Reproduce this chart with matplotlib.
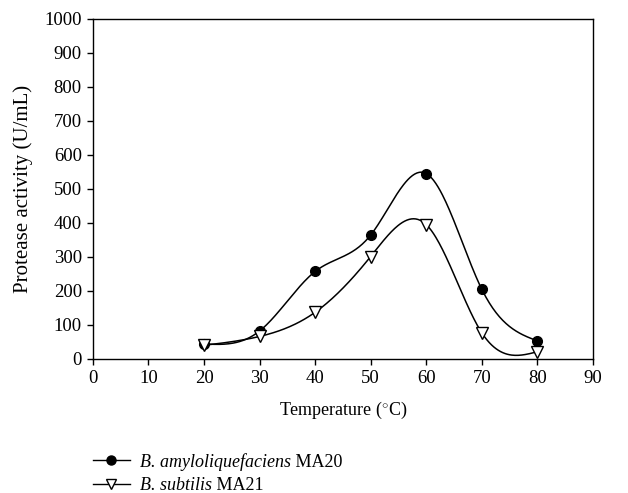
import numpy as np
import matplotlib
matplotlib.use("Agg")
import matplotlib.pyplot as plt
from matplotlib.lines import Line2D

plt.rcParams['font.family'] = ['Liberation Serif', 'DejaVu Serif']
plt.rcParams['mathtext.fontset'] = 'custom'
plt.rcParams['mathtext.it'] = 'Liberation Serif:italic'
plt.rcParams['mathtext.rm'] = 'Liberation Serif'

temperature = [20, 30, 40, 50, 60, 70, 80]
amylo = [44, 82, 257, 364, 545, 205, 53]
subtilis = [40, 66, 137, 301, 395, 77, 21]
species = ["B. amyloliquefaciens", "B. subtilis"]
strains = [" MA20", " MA21"]


def natural_spline(x, y, xs):
    x = np.asarray(x, float); y = np.asarray(y, float)
    n = len(x)
    h = np.diff(x)
    A = np.zeros((n, n)); b = np.zeros(n)
    A[0, 0] = 1; A[-1, -1] = 1
    for i in range(1, n - 1):
        A[i, i - 1] = h[i - 1]
        A[i, i] = 2 * (h[i - 1] + h[i])
        A[i, i + 1] = h[i]
        b[i] = 3 * ((y[i + 1] - y[i]) / h[i] - (y[i] - y[i - 1]) / h[i - 1])
    c = np.linalg.solve(A, b)
    out = np.empty_like(xs)
    for k, xv in enumerate(xs):
        i = min(max(np.searchsorted(x, xv) - 1, 0), n - 2)
        dx = xv - x[i]
        bi = (y[i + 1] - y[i]) / h[i] - h[i] * (2 * c[i] + c[i + 1]) / 3
        di = (c[i + 1] - c[i]) / (3 * h[i])
        out[k] = y[i] + bi * dx + c[i] * dx ** 2 + di * dx ** 3
    return out


W, H = 628, 493
fig = plt.figure(figsize=(W / 100, H / 100), dpi=100)
ax = fig.add_axes([0.148, 0.272, 0.796, 0.690])

xs = np.linspace(temperature[0], temperature[-1], 300)
ax.plot(xs, natural_spline(temperature, amylo, xs), color='black', lw=1.1, zorder=2)
ax.plot(xs, natural_spline(temperature, subtilis, xs), color='black', lw=1.1, zorder=2)
ax.plot(temperature, amylo, 'o', ms=7, color='black', zorder=3)
ax.plot(temperature, subtilis, 'v', ms=8, mfc='white', mec='black', mew=1.0, zorder=4)

ax.set_xlim(0, 90)
ax.set_ylim(0, 1000)
ax.set_xticks(range(0, 91, 10))
ax.set_yticks(range(0, 1001, 100))
ax.tick_params(direction='out', length=4, width=1, labelsize=13.5, top=False, right=False, pad=4)
for s in ax.spines.values():
    s.set_linewidth(1)
ax.set_xlabel('Temperature ($^{\\circ}$C)', fontsize=13, labelpad=9)
ax.set_ylabel('Protease activity (U/mL)', fontsize=15, labelpad=8)

# legend drawn manually (italic species + upright strain)
styles = [dict(marker='o', ms=6.5, mfc='black', mec='black'),
          dict(marker='v', ms=7.5, mfc='white', mec='black')]
rows_px = [460, 484]
for sp, st, sty, ypx in zip(species, strains, styles, rows_px):
    yf = 1 - ypx / H
    fig.add_artist(Line2D([93 / W, 130 / W], [yf, yf], color='black', lw=1,
                          transform=fig.transFigure))
    fig.add_artist(Line2D([111.5 / W], [yf], color='black', lw=0,
                          transform=fig.transFigure, **sty))
    t = fig.text(140 / W, yf, sp, fontsize=13, style='italic', va='center_baseline', ha='left')
    ax.annotate(st, xy=(1, 0), xycoords=t, fontsize=13, va='bottom', ha='left',
                annotation_clip=False)

fig.savefig('out.png', dpi=100)
